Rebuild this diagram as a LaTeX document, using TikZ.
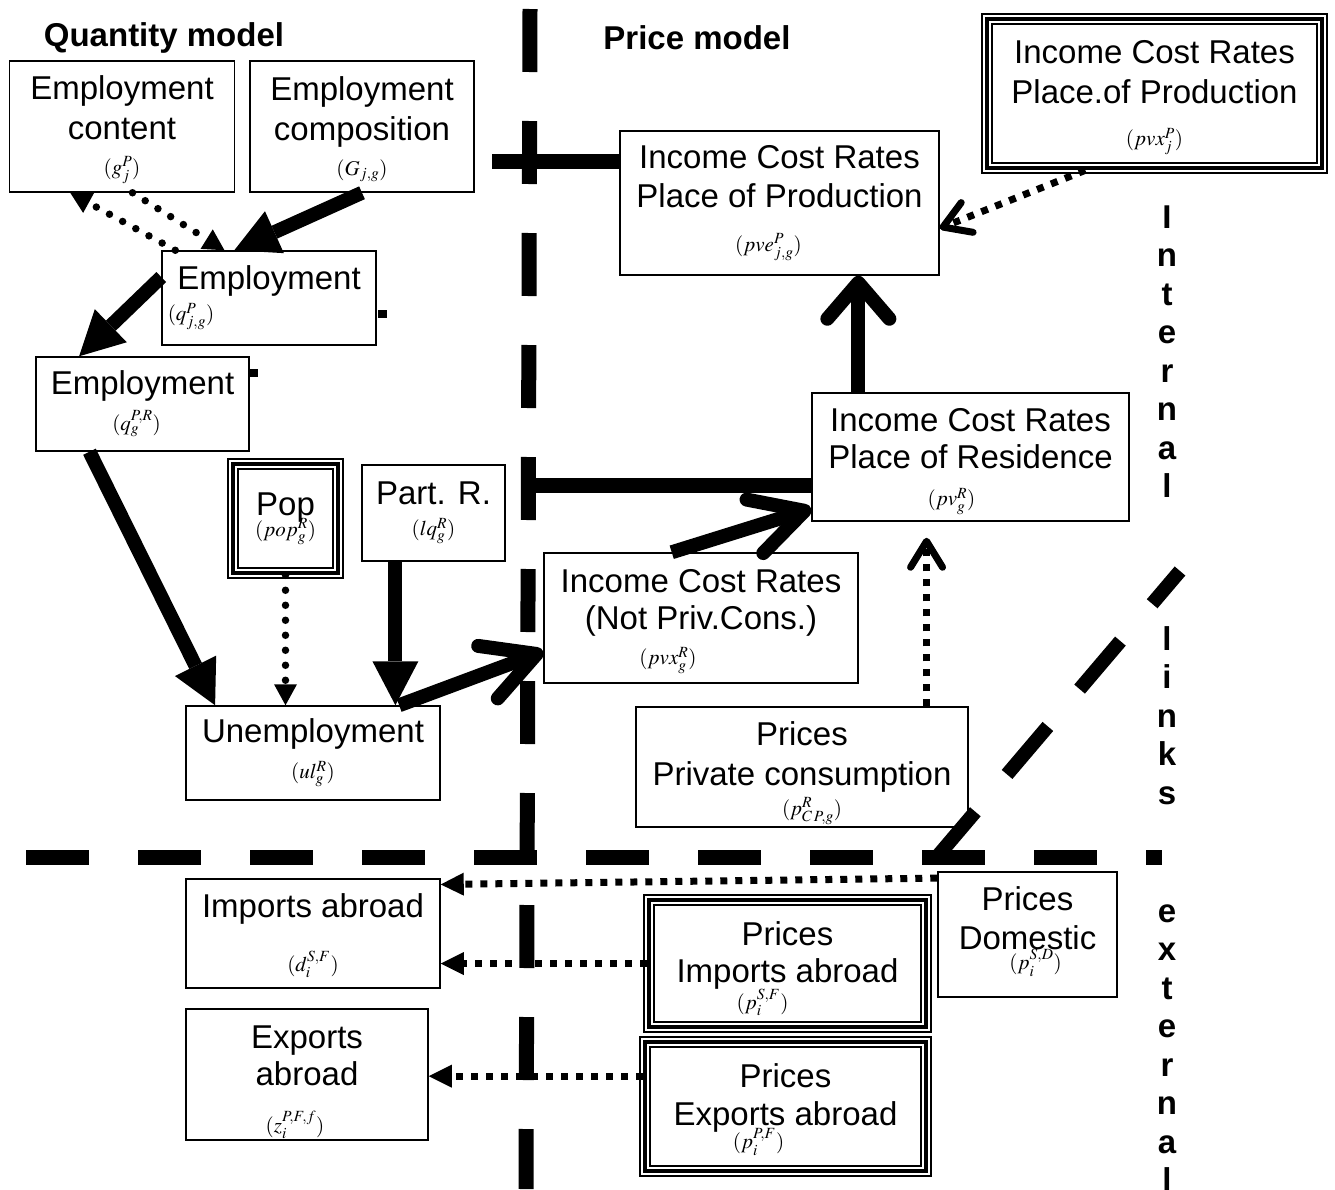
\documentclass[tikz,border=0pt]{standalone}
\usepackage{mathptmx}
\usepackage{fontspec}
\setmainfont{Liberation Sans}
\usetikzlibrary{arrows.meta}

\newcommand{\bigtext}{\fontsize{33}{39}\selectfont}
\newcommand{\bigbold}{\fontsize{33}{39}\selectfont\bfseries}
\newcommand{\eqtext}{\fontsize{21}{24}\selectfont}
\newcommand{\eqat}[2]{\makebox[0pt]{\hspace*{#1}\hspace*{#1}\eqtext$#2$}}
\newcommand{\dn}[1]{\rule{0pt}{#1}}

\begin{document}
\begin{tikzpicture}[x=1pt, y=-1pt,
    box/.style={draw, line width=1.5pt, inner sep=0pt, align=center, font=\bigtext},
    tribox/.style={box, line width=4.5pt, preaction={draw, line width=12pt},
      preaction={draw=white, line width=8pt}},
    dims/.style 2 args={minimum width=#1, minimum height=#2},
    heavy/.style={line width=15pt},
    heavyarrow/.style={line width=14pt, -{Triangle[length=44pt, width=46pt, line width=0pt]}},
    openarrow/.style 2 args={line width=14pt, -{Straight Barb[length=#1, width=#2, round]}},
    roundots/.style={line width=7.5pt, line cap=round, dash pattern=on 0pt off 15pt,
      -{Triangle[length=21pt, width=23pt, line width=0pt]}},
    squaredots/.style={line width=7pt, dash pattern=on 7pt off 8pt,
      -{Triangle[length=23pt, width=23pt, line width=0pt]}},
    squareopen/.style={line width=7pt, dash pattern=on 7pt off 8pt,
      -{Straight Barb[length=26pt, width=32pt, round]}},
    sepline/.style={line width=15pt, dash pattern=on 63pt off 49pt},
    sidelbl/.style={font=\bigbold, inner sep=0pt, anchor=base},
    title/.style={font=\bigbold, inner sep=0pt, anchor=base}
  ]
  \useasboundingbox (0,0) rectangle (1335,1189);

  % separators between the model parts
  \coordinate (vtop) at (530,9);
  \coordinate (vbot) at (526,1189);
  \coordinate (hleft) at (26,857);
  \coordinate (hright) at (1162,857);
  \coordinate (dtop) at (1180,571);
  \coordinate (dbot) at (936,858);
  \draw[sepline] (vtop) -- (vbot);
  \draw[sepline] (hleft) -- (hright);
  \draw[sepline, dash phase=20pt, line width=14pt] (dtop) -- (dbot);

  \node[title] (qmodel) at (164,46) {Quantity model};
  \node[title] (pmodel) at (697,49) {Price model};

  % quantity model
  \node[box, dims={225pt}{131pt}] (empcont) at (122,126.5)
    {\dn{30pt}Employment\\[1pt]content\\[-4pt]\eqat{0pt}{(g^{P}_{j})}};
  \node[box, dims={224pt}{131pt}] (empcomp) at (362,126.5)
    {\dn{30pt}Employment\\[1pt]composition\\[-4pt]\eqat{0pt}{(G_{j,g})}};
  \node[box, dims={214pt}{94pt}] (empjg) at (269,298)
    {Employment\\[-8pt]\eqat{-78pt}{(q^{P}_{j,g})}};
  \node[box, dims={213pt}{94pt}] (emppr) at (142.5,404)
    {Employment\\[-3pt]\eqat{-6pt}{(q^{P,R}_{g})}};
  \node[tribox, dims={105pt}{109pt}] (pop) at (285.5,518.5)
    {Pop\\[-18pt]\eqat{0pt}{(pop^{R}_{g})}};
  \node[box, dims={143pt}{96pt}] (partr) at (433.5,513)
    {Part. R.\\[-8pt]\eqat{0pt}{(lq^{R}_{g})}};
  \node[box, dims={254pt}{94pt}] (unemp) at (313,753)
    {Unemployment\\[-3pt]\eqat{0pt}{(ul^{R}_{g})}};

  % price model
  \node[box, dims={319pt}{144pt}] (prod) at (779.5,203)
    {Income Cost Rates\\Place of Production\\[5pt]\eqat{-11pt}{(pve^{P}_{j,g})}};
  \node[tribox, dims={335pt}{149pt}] (icrext) at (1154.5,93.5)
    {\dn{32pt}Income Cost Rates\\[1pt]Place.of Production\\[3pt]\eqat{0pt}{(pvx^{P}_{j})}};
  \node[box, dims={317pt}{128pt}] (res) at (970.5,457)
    {\dn{32pt}Income Cost Rates\\[-2pt]Place of Residence\\[-2pt]\eqat{-19pt}{(pv^{R}_{g})}};
  \node[box, dims={314pt}{130pt}] (notpriv) at (701,618)
    {\dn{30pt}Income Cost Rates\\[-2pt](Not Priv.Cons.)\\[-4pt]\eqat{-33pt}{(pvx^{R}_{g})}};
  \node[box, dims={332pt}{120pt}] (pcons) at (802,767)
    {\dn{36pt}Prices\\[1pt]Private consumption\\[-9pt]\eqat{10pt}{(p^{R}_{C\,P,g})}};

  % external links
  \node[box, dims={179pt}{125pt}] (pdom) at (1027.5,934.5)
    {Prices\\Domestic\\[-19pt]\eqat{8pt}{(p^{S,D}_{i})}\rule[-12pt]{0pt}{1pt}};
  \node[tribox, dims={277pt}{127pt}] (pimp) at (787.5,963.5)
    {\dn{34pt}Prices\\[-2pt]Imports abroad\\[-12pt]\eqat{-25pt}{(p^{S,F}_{i})}};
  \node[tribox, dims={281pt}{129pt}] (pexp) at (785.5,1106.5)
    {\dn{30pt}Prices\\[-1pt]Exports abroad\\[-16pt]\eqat{-27pt}{(p^{P,F}_{i})}};
  \node[box, dims={254pt}{109pt}] (impabr) at (313,933.5)
    {\dn{28pt}Imports abroad\\[15pt]\eqat{0pt}{(d^{S,F}_{i})}};
  \node[box, dims={242pt}{131pt}] (expabr) at (307,1074.5)
    {\dn{38pt}Exports\\[-2pt]abroad\\[8pt]\eqat{-12pt}{(z^{P,F,f}_{i})}};

  \fill (378,310) rectangle (387,318);
  \fill (250,369) rectangle (258,377);

  % side labels
  \foreach \ch [count=\i from 0] in {I,n,t,e,r,n,a,l}
    \node[sidelbl] (int\i) at (1167,{228+38.5*\i}) {\ch};
  \foreach \ch [count=\i from 0] in {l,i,n,k,s}
    \node[sidelbl] (lnk\i) at (1167,{650+38.5*\i}) {\ch};
  \foreach \ch [count=\i from 0] in {e,x,t,e,r,n,a,l}
    \node[sidelbl] (ext\i) at (1167,{922+38.5*\i}) {\ch};

  % links
  \coordinate (tprod) at (492,161);
  \coordinate (tres) at (528,485);
  \draw[heavy] (tprod) -- (tprod -| prod.west);
  \draw[heavy] (tres) -- (tres -| res.west);

  \draw[roundots] (empjg.153) -- (empcont.232);
  \draw[roundots] (empcont.279) -- (empjg.133);
  \draw[heavyarrow] (empcomp.south) -- (empjg.126);
  \draw[heavyarrow] (empjg.169) -- (emppr.143);
  \draw[heavyarrow] (emppr.222) -- (unemp.154);
  \draw[roundots] (pop.south) -- (pop.south |- unemp.north);
  \draw[heavyarrow] (partr.232) -- (partr.232 |- unemp.north);
  \draw[openarrow={52pt}{56pt}] (unemp.29) -- (notpriv.192);
  \draw[openarrow={52pt}{56pt}] (notpriv.114) -- (res.198);
  \draw[openarrow={36pt}{62pt}] (res.150) -- (res.150 |- prod.south);
  \draw[squareopen, shorten >=16pt] (pcons.26.6) -- (pcons.26.6 |- res.south);
  \draw[squareopen] (icrext.228) -- (prod.-9);
  \draw[squaredots] (pdom.148) -- (impabr.21.6);
  \draw[squaredots] (pimp.west) -- (pimp.west -| impabr.east);
  \draw[squaredots] (pexp.168) -- (pexp.168 -| expabr.east);
\end{tikzpicture}
\end{document}
